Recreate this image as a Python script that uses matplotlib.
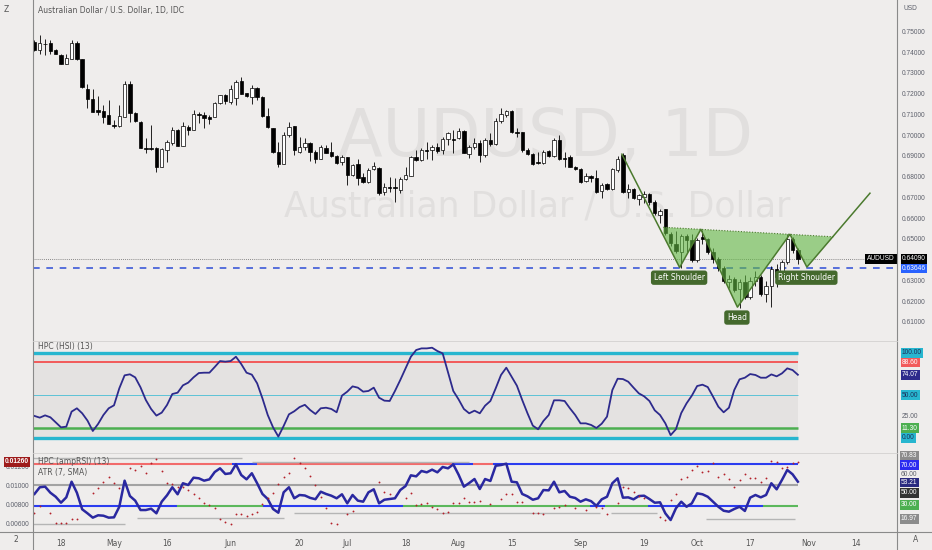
import numpy as np
import matplotlib
matplotlib.use("Agg")
import matplotlib.pyplot as plt
from matplotlib.lines import Line2D

W, H = 932, 550
BG = "#efedec"

# daily AUDUSD candles, 11 Apr .. 28 Oct (index = trading day)
opens = [0.7454, 0.7413, 0.7445, 0.7450, 0.7413, 0.7393, 0.7349, 0.7373, 0.7450, 0.7370,
         0.7229, 0.7181, 0.7125, 0.7120, 0.7101, 0.7053, 0.7048, 0.7093, 0.7253, 0.7109,
         0.7069, 0.6945, 0.6941, 0.6941, 0.6852, 0.6933, 0.6965, 0.7029, 0.6953, 0.7045,
         0.7029, 0.7106, 0.7101, 0.7093, 0.7093, 0.7160, 0.7197, 0.7165, 0.7185, 0.7264,
         0.7208, 0.7189, 0.7234, 0.7189, 0.7096, 0.7037, 0.6925, 0.6868, 0.7005, 0.7048,
         0.6925, 0.6946, 0.6965, 0.6925, 0.6892, 0.6941, 0.6925, 0.6904, 0.6876, 0.6897,
         0.6812, 0.6865, 0.6801, 0.6780, 0.6840, 0.6848, 0.6732, 0.6753, 0.6756, 0.6740,
         0.6791, 0.6807, 0.6897, 0.6884, 0.6933, 0.6933, 0.6949, 0.6933, 0.6984, 0.6984,
         0.6989, 0.7026, 0.6914, 0.6946, 0.6968, 0.6909, 0.6981, 0.6962, 0.7074, 0.7101,
         0.7122, 0.7021, 0.7018, 0.6933, 0.6914, 0.6877, 0.6872, 0.6930, 0.6904, 0.6981,
         0.6894, 0.6901, 0.6852, 0.6841, 0.6785, 0.6808, 0.6796, 0.6737, 0.6769, 0.6744,
         0.6836, 0.6909, 0.6732, 0.6745, 0.6695, 0.6705, 0.6720, 0.6684, 0.6620, 0.6647,
         0.6528, 0.6480, 0.6444, 0.6520, 0.6501, 0.6404, 0.6516, 0.6503, 0.6440, 0.6410,
         0.6366, 0.6295, 0.6310, 0.6262, 0.6295, 0.6225, 0.6300, 0.6320, 0.6240, 0.6280,
         0.6360, 0.6320, 0.6395, 0.6505, 0.6450]
highs = [0.7462, 0.7486, 0.7470, 0.7462, 0.7418, 0.7397, 0.7397, 0.7462, 0.7457, 0.7373,
         0.7253, 0.7229, 0.7194, 0.7149, 0.7173, 0.7077, 0.7149, 0.7264, 0.7264, 0.7117,
         0.7072, 0.6989, 0.7053, 0.6949, 0.6941, 0.6981, 0.7045, 0.7034, 0.7069, 0.7053,
         0.7125, 0.7114, 0.7114, 0.7104, 0.7165, 0.7200, 0.7205, 0.7245, 0.7269, 0.7285,
         0.7210, 0.7245, 0.7237, 0.7192, 0.7133, 0.7040, 0.6973, 0.7021, 0.7069, 0.7050,
         0.6997, 0.6989, 0.6973, 0.6933, 0.6957, 0.6957, 0.6973, 0.6909, 0.6909, 0.6899,
         0.6868, 0.6892, 0.6820, 0.6845, 0.6876, 0.6852, 0.6772, 0.6804, 0.6796, 0.6801,
         0.6852, 0.6904, 0.6933, 0.6941, 0.6973, 0.6957, 0.6965, 0.6997, 0.7021, 0.7029,
         0.7037, 0.7029, 0.6957, 0.6989, 0.6981, 0.6989, 0.7013, 0.7085, 0.7133, 0.7125,
         0.7125, 0.7037, 0.7021, 0.6941, 0.6917, 0.6925, 0.6933, 0.6933, 0.6989, 0.7005,
         0.6925, 0.6909, 0.6856, 0.6844, 0.6820, 0.6812, 0.6836, 0.6772, 0.6776, 0.6844,
         0.6904, 0.6917, 0.6770, 0.6750, 0.6720, 0.6735, 0.6728, 0.6690, 0.6650, 0.6650,
         0.6540, 0.6545, 0.6530, 0.6530, 0.6530, 0.6510, 0.6549, 0.6510, 0.6460, 0.6420,
         0.6375, 0.6330, 0.6320, 0.6310, 0.6330, 0.6320, 0.6350, 0.6330, 0.6300, 0.6375,
         0.6385, 0.6405, 0.6527, 0.6515, 0.6460]
lows = [0.7409, 0.7397, 0.7393, 0.7397, 0.7394, 0.7346, 0.7346, 0.7373, 0.7367, 0.7234,
        0.7136, 0.7114, 0.7104, 0.7061, 0.7056, 0.7037, 0.7045, 0.7090, 0.7069, 0.7069,
        0.6944, 0.6917, 0.6933, 0.6828, 0.6849, 0.6876, 0.6957, 0.6950, 0.6952, 0.7005,
        0.7027, 0.7061, 0.7037, 0.7058, 0.7090, 0.7157, 0.7157, 0.7157, 0.7149, 0.7202,
        0.7190, 0.7157, 0.7173, 0.7093, 0.7037, 0.6917, 0.6852, 0.6866, 0.6997, 0.6909,
        0.6917, 0.6933, 0.6881, 0.6872, 0.6888, 0.6917, 0.6901, 0.6865, 0.6860, 0.6764,
        0.6807, 0.6764, 0.6772, 0.6772, 0.6837, 0.6716, 0.6716, 0.6732, 0.6684, 0.6724,
        0.6788, 0.6807, 0.6881, 0.6881, 0.6888, 0.6884, 0.6917, 0.6914, 0.6957, 0.6917,
        0.6984, 0.6917, 0.6893, 0.6936, 0.6877, 0.6901, 0.6952, 0.6957, 0.7064, 0.7093,
        0.7016, 0.6997, 0.6925, 0.6909, 0.6860, 0.6865, 0.6865, 0.6901, 0.6901, 0.6885,
        0.6852, 0.6849, 0.6836, 0.6776, 0.6780, 0.6780, 0.6727, 0.6700, 0.6740, 0.6740,
        0.6828, 0.6727, 0.6700, 0.6695, 0.6670, 0.6680, 0.6670, 0.6620, 0.6582, 0.6525,
        0.6470, 0.6435, 0.6365, 0.6440, 0.6395, 0.6395, 0.6480, 0.6430, 0.6390, 0.6350,
        0.6290, 0.6270, 0.6250, 0.6172, 0.6215, 0.6215, 0.6280, 0.6230, 0.6200, 0.6175,
        0.6275, 0.6300, 0.6385, 0.6435, 0.6385]
closes = [0.7413, 0.7450, 0.7443, 0.7410, 0.7397, 0.7349, 0.7377, 0.7450, 0.7370, 0.7237,
          0.7181, 0.7117, 0.7117, 0.7093, 0.7058, 0.7051, 0.7098, 0.7253, 0.7109, 0.7074,
          0.6945, 0.6937, 0.6939, 0.6852, 0.6937, 0.6973, 0.7029, 0.6953, 0.7048, 0.7029,
          0.7106, 0.7101, 0.7085, 0.7083, 0.7160, 0.7197, 0.7168, 0.7225, 0.7261, 0.7205,
          0.7192, 0.7234, 0.7186, 0.7096, 0.7045, 0.6925, 0.6868, 0.7005, 0.7045, 0.6933,
          0.6949, 0.6965, 0.6925, 0.6892, 0.6946, 0.6920, 0.6904, 0.6872, 0.6897, 0.6812,
          0.6860, 0.6796, 0.6780, 0.6837, 0.6856, 0.6728, 0.6756, 0.6751, 0.6748, 0.6791,
          0.6812, 0.6897, 0.6884, 0.6933, 0.6930, 0.6946, 0.6930, 0.6984, 0.7013, 0.6982,
          0.7026, 0.6920, 0.6946, 0.6968, 0.6909, 0.6981, 0.6962, 0.7074, 0.7106, 0.7120,
          0.7018, 0.7016, 0.6933, 0.6914, 0.6865, 0.6872, 0.6925, 0.6904, 0.6981, 0.6888,
          0.6891, 0.6852, 0.6840, 0.6777, 0.6808, 0.6796, 0.6732, 0.6764, 0.6744, 0.6840,
          0.6888, 0.6732, 0.6745, 0.6700, 0.6715, 0.6720, 0.6684, 0.6628, 0.6641, 0.6532,
          0.6483, 0.6445, 0.6520, 0.6501, 0.6404, 0.6500, 0.6503, 0.6440, 0.6410, 0.6366,
          0.6300, 0.6310, 0.6260, 0.6295, 0.6225, 0.6300, 0.6320, 0.6240, 0.6280, 0.6360,
          0.6320, 0.6395, 0.6505, 0.6450, 0.6409]

# HPC (HSI) (13)
hsi = [25.6, 23.6, 26.3, 24.0, 18.1, 12.2, 13.0, 30.7, 34.6, 28.7,
       20.1, 7.9, 16.2, 26.7, 34.6, 38.1, 58.1, 73.4, 74.6, 71.0,
       59.3, 44.4, 33.8, 26.0, 29.5, 38.5, 51.4, 53.0, 61.6, 64.8,
       71.0, 76.1, 76.5, 76.5, 83.2, 90.2, 89.5, 90.2, 95.3, 86.7,
       76.5, 74.2, 64.0, 46.3, 26.7, 12.2, 1.3, 13.8, 27.5, 31.1,
       36.0, 38.7, 32.6, 27.9, 34.6, 35.3, 33.8, 29.9, 49.5, 54.2,
       60.4, 58.9, 54.2, 55.0, 58.9, 47.1, 43.6, 43.2, 55.0, 67.9,
       81.6, 95.3, 103.2, 105.1, 105.1, 105.9, 102.0, 99.2, 76.9, 55.0,
       45.1, 33.8, 28.7, 31.8, 28.7, 37.7, 43.2, 58.1, 73.8, 82.4,
       71.8, 61.2, 44.4, 28.7, 14.2, 9.9, 19.7, 26.7, 44.0, 44.0,
       43.2, 34.6, 26.7, 16.9, 16.9, 15.0, 11.4, 16.5, 24.8, 56.0,
       69.4, 69.0, 65.9, 58.9, 52.2, 48.7, 43.2, 32.2, 26.7, 16.9,
       3.0, 10.0, 29.0, 40.4, 49.5, 60.8, 62.4, 59.6, 48.3, 36.5,
       29.9, 35.3, 56.1, 68.7, 70.6, 74.9, 73.8, 70.6, 70.6, 74.5,
       72.2, 75.7, 81.6, 79.6, 74.07]

# HPC (ampRSI) (13)
amp_rsi = [41.3, 47.8, 48.4, 42.5, 38.6, 32.8, 38.0, 53.2, 42.5, 26.4,
           22.5, 18.3, 20.6, 20.2, 18.3, 18.6, 28.9, 54.2, 39.3, 34.8,
           25.7, 25.7, 27.0, 22.5, 33.8, 40.0, 47.8, 41.0, 51.7, 50.0,
           57.1, 56.5, 54.2, 55.5, 62.6, 66.2, 60.7, 61.4, 70.1, 59.7,
           55.5, 61.4, 51.7, 41.3, 36.4, 26.7, 23.1, 42.9, 47.8, 37.1,
           40.3, 39.8, 37.5, 36.2, 43.5, 41.3, 39.6, 37.1, 41.0, 32.2,
           40.3, 34.8, 33.8, 42.9, 45.8, 32.2, 35.7, 36.4, 37.1, 45.1,
           49.0, 59.4, 58.4, 63.6, 62.3, 64.9, 62.3, 67.5, 66.2, 70.0,
           60.0, 48.4, 51.9, 55.8, 46.1, 55.8, 53.9, 68.7, 69.4, 70.7,
           53.2, 52.6, 41.3, 39.0, 35.7, 37.1, 45.1, 44.8, 53.2, 42.9,
           44.2, 38.6, 37.4, 33.8, 36.1, 34.3, 29.8, 36.1, 38.6, 51.7,
           56.5, 37.7, 38.0, 36.1, 39.3, 39.6, 36.4, 32.8, 33.2, 22.5,
           16.0, 27.4, 33.8, 28.9, 32.2, 41.9, 41.0, 38.6, 33.8, 28.9,
           25.0, 24.1, 26.7, 28.9, 24.8, 37.7, 40.3, 38.0, 40.3, 51.7,
           45.8, 54.9, 64.6, 60.4, 53.21]

# ATR (7, SMA) dots, nan where no dot is drawn
nan = np.nan
atr = [0.00726, 0.00800, nan, 0.00726, 0.00621, 0.00621, 0.00615, 0.00657, 0.00657, nan,
       nan, 0.00931, 0.00983, 0.01053, 0.01105, 0.01042, 0.00983, nan, 0.01200, 0.01176,
       0.01218, 0.01147, 0.01253, 0.01288, 0.01165, 0.01036, 0.01028, 0.01000, 0.01000, 0.00965,
       0.00920, 0.00878, 0.00832, 0.00807, 0.00773, 0.00660, 0.00632, 0.00604, 0.00709, 0.00709,
       0.00695, 0.00709, 0.00737, 0.00818, 0.00878, 0.00931, 0.01028, 0.01099, 0.01147, 0.01299,
       0.01253, 0.01194, 0.01116, 0.01018, 0.00895, 0.00779, 0.00621, 0.00607, nan, 0.00713,
       0.00747, nan, nan, nan, nan, 0.01053, 0.00947, 0.00920, nan, nan,
       0.00884, 0.00931, 0.00807, 0.00815, 0.00825, 0.00789, 0.00762, 0.00726, 0.00731, 0.00825,
       0.00825, 0.00884, 0.00842, 0.00842, 0.00853, nan, 0.00815, nan, 0.00871, 0.00920,
       0.00920, 0.00836, 0.00842, nan, 0.00728, 0.00718, 0.00713, nan, 0.00773, 0.00789,
       0.00807, nan, 0.00773, nan, 0.00752, nan, 0.00789, 0.00779, 0.00709, nan,
       0.00825, 0.01000, 0.00989, 0.00947, 0.00905, 0.00884, nan, nan, 0.00684, 0.00647,
       0.00860, 0.00920, 0.01081, 0.01105, 0.01176, 0.01221, 0.01152, 0.01165, 0.01246, 0.01105,
       0.01131, 0.01081, 0.01000, 0.01071, 0.01131, 0.01095, 0.01095, 0.01053, 0.01088, 0.01271,
       0.01257, 0.01194, 0.01211, 0.01246, 0.01260]

# inverse head & shoulders drawing (bar index, price)
pattern_x = [110.8, 121.7, 125.7, 132.6, 142.5, 145.7, 157.6]
pattern_y = [0.6913, 0.6367, 0.6551, 0.6176, 0.6527, 0.6369, 0.6725]
neck_x = [118.6, 150.7]
neck_y = [0.6561, 0.6515]
pattern_labels = ["Left Shoulder", "Head", "Right Shoulder"]
label_x = [121.6, 132.5, 145.6]
label_y = [0.6318, 0.6126, 0.6318]

last_price = 0.64090
line_price = 0.63646

# ampRSI band colours switch along the bars
seg70 = [(-0.28, 37.2, "#f26b6b"), (37.2, 42.0, "#2b3cf0"), (42.0, 78.8, "#f26b6b"),
         (78.8, 82.7, "#2b3cf0"), (82.7, 86.5, "#f26b6b"), (86.5, 144, "#2b3cf0")]
seg30 = [(-0.28, 26.9, "#2b3cf0"), (26.9, 43.1, "#5cb85c"), (43.1, 69.5, "#2b3cf0"),
         (69.5, 104.8, "#5cb85c"), (104.8, 107.6, "#2b3cf0"), (107.6, 115.8, "#5cb85c"),
         (115.8, 137.4, "#2b3cf0"), (137.4, 144, "#5cb85c")]
upper_steps = [(-0.28, 39.2, 76.5), (41.0, 82.0, 72.3)]
lower_steps = [(-0.28, 17.1, 11.8), (19.3, 47.1, 18.3), (49.0, 106.7, 22.5),
               (108.8, 117.4, 23.1), (126.7, 143.5, 17.0)]

price_ticks = [0.61, 0.62, 0.63, 0.65, 0.66, 0.67, 0.68, 0.69, 0.70, 0.71, 0.72, 0.73, 0.74, 0.75]
tick_idx = [5, 15, 25, 37, 50, 59, 70, 80, 90, 103, 115, 125, 135, 146, 155]
tick_lbl = ["18", "May", "16", "Jun", "20", "Jul", "18", "Aug", "15", "Sep",
            "19", "Oct", "17", "Nov", "14"]

AXF = "Liberation Sans"
AXS = 4.8


def px_rect(x0, y0, x1, y1):
    return [x0 / W, 1 - y1 / H, (x1 - x0) / W, (y1 - y0) / H]


def rlabel(ax, y, s, fc=None, tc="#5d606b"):
    kw = {}
    if fc:
        kw["bbox"] = dict(boxstyle="square,pad=0.2", fc=fc, ec="none")
    ax.text(1 + 5 / 864, y, s, transform=ax.get_yaxis_transform(), ha="left",
            va="center", fontsize=AXS, family=AXF, color=tc, clip_on=False, **kw)


def fig_label(xp, yp, s, fc=None, tc="#5d606b", ha="left"):
    kw = {}
    if fc:
        kw["bbox"] = dict(boxstyle="square,pad=0.2", fc=fc, ec="none")
    fig.text(xp / W, 1 - yp / H, s, ha=ha, va="center", fontsize=AXS, family=AXF,
             color=tc, **kw)


plt.rcParams["font.family"] = ["DejaVu Sans"]
fig = plt.figure(figsize=(W / 100, H / 100), dpi=100, facecolor=BG)
ax1 = fig.add_axes(px_rect(33, 0, 897, 341))
ax2 = fig.add_axes(px_rect(33, 341, 897, 453))
ax3 = fig.add_axes(px_rect(33, 453, 897, 532))
ax3b = ax3.twinx()

XLIM = (-0.28, 162.7)
for ax in (ax1, ax2, ax3, ax3b):
    ax.set_xlim(XLIM)
    for s in ax.spines.values():
        s.set_visible(False)
    ax.set_xticks([])
    ax.set_yticks([])
for ax in (ax1, ax2, ax3):
    ax.set_facecolor(BG)
ax3b.patch.set_visible(False)

x = np.arange(len(closes))
o = np.array(opens)
c = np.array(closes)

# ---- main price panel
ax1.set_ylim(0.60130, 0.76556)
ax1.text((545 - 33) / 864, 1 - 138 / 341, "AUDUSD, 1D", transform=ax1.transAxes,
         ha="center", va="center", fontsize=47, color="#e1dfde", zorder=0)
ax1.text((537 - 33) / 864, 1 - 207 / 341, "Australian Dollar / U.S. Dollar",
         transform=ax1.transAxes, ha="center", va="center", fontsize=25,
         color="#e1dfde", zorder=0)
ax1.text(5 / 864, 1 - 11 / 341, "Australian Dollar / U.S. Dollar, 1D, IDC",
         transform=ax1.transAxes, ha="left", va="center", fontsize=5.5, color="#555555")

ax1.axhline(last_price, color="#666666", lw=0.6, ls=(0, (1, 1.5)), zorder=1)
ax1.axhline(line_price, color="#3d5ad8", lw=1.2, ls=(0, (4, 4)), zorder=1)

ax1.vlines(x, lows, highs, color="black", lw=0.6, zorder=2)
body = np.maximum(np.abs(c - o), 0.00008)
ax1.bar(x, body, bottom=np.minimum(o, c), width=0.64,
        color=np.where(c >= o, "white", "black"), edgecolor="black",
        linewidth=0.5, zorder=3)

xs = np.linspace(neck_x[0], neck_x[1], 600)
zig = np.interp(xs, pattern_x, pattern_y)
neck = np.interp(xs, neck_x, neck_y)
ax1.fill_between(xs, zig, neck, where=zig < neck, color="#62b944", alpha=0.6,
                 lw=0, zorder=4)
ax1.plot(pattern_x, pattern_y, color="#4b7a2e", lw=1.1, zorder=5)
ax1.plot(neck_x, neck_y, color="#4b7a2e", lw=0.8, ls=(0, (1, 1.5)), zorder=5)
for lx, ly, s in zip(label_x, label_y, pattern_labels):
    ax1.text(lx, ly, s, ha="center", va="center", fontsize=5.5, color="white",
             bbox=dict(boxstyle="round,pad=0.35", fc="#44692d", ec="none"), zorder=6)

for v in price_ticks:
    rlabel(ax1, v, f"{v:.5f}")
rlabel(ax1, last_price, "0.64090", fc="black", tc="white")
rlabel(ax1, line_price - 0.0002, "0.63646", fc="#2962ff", tc="white")
ax1.text((881 - 33) / 864, last_price, "AUDUSD", transform=ax1.get_yaxis_transform(),
         ha="center", va="center", fontsize=4.8, family=AXF, color="white",
         bbox=dict(boxstyle="square,pad=0.25", fc="black", ec="none"), zorder=7)

# ---- HSI panel
ax2.set_ylim(-18.0, 113.8)
ax2.fill_between([XLIM[0], 144], 0, 100, color="#e4e2e1", lw=0, zorder=0)
ax2.hlines(100, XLIM[0], 144, color="#27b6cf", lw=2.4)
ax2.hlines(0, XLIM[0], 144, color="#27b6cf", lw=2.4)
ax2.hlines(88.6, XLIM[0], 144, color="#f25a5a", lw=1.4)
ax2.hlines(50, XLIM[0], 144, color="#5cc3d6", lw=0.7)
ax2.hlines(11.3, XLIM[0], 144, color="#4caf50", lw=1.8)
ax2.plot(x, hsi, color="#2d2a8c", lw=1.3, zorder=3)
ax2.text(5 / 864, 1 - 6 / 112, "HPC (HSI) (13)", transform=ax2.transAxes,
         ha="left", va="center", fontsize=5.5, color="#555555")
rlabel(ax2, 100, "100.00", fc="#27b6cf", tc="#1b2f5a")
rlabel(ax2, 88.6, "88.60", fc="#f25a5a", tc="white")
rlabel(ax2, 74.07, "74.07", fc="#2d2a8c", tc="white")
rlabel(ax2, 50, "50.00", fc="#27b6cf", tc="#1b2f5a")
rlabel(ax2, 25, "25.00")
rlabel(ax2, 11.3, "11.30", fc="#4caf50", tc="white")
rlabel(ax2, 0, "0.00", fc="#27b6cf", tc="#1b2f5a")

# ---- ampRSI / ATR panel
ax3.set_ylim(4.37, 81.07)
ax3b.set_ylim(0.005232, 0.013547)
for a0, a1, col in seg70:
    ax3.hlines(70, a0, a1, color=col, lw=1.5)
for a0, a1, col in seg30:
    ax3.hlines(30, a0, a1, color=col, lw=1.5)
ax3.hlines(50, XLIM[0], 144, color="#a3a3a3", lw=1.5)
for a0, a1, v in upper_steps + lower_steps:
    ax3.hlines(v, a0, a1, color="#b5b5b5", lw=1.0)
ax3.plot(x, amp_rsi, color="#2a28a0", lw=1.8, zorder=3)
ax3b.scatter(x, atr, s=1.8, color="#b3202a", lw=0, zorder=4)
ax3.text(5 / 864, 1 - 8 / 79, "HPC (ampRSI) (13)", transform=ax3.transAxes,
         ha="left", va="center", fontsize=5.5, color="#555555")
ax3.text(5 / 864, 1 - 20 / 79, "ATR (7, SMA)", transform=ax3.transAxes,
         ha="left", va="center", fontsize=5.5, color="#555555")

fig_label(901, 455.7, "70.83", fc="#8c8c8c", tc="white")
fig_label(901, 465.3, "70.00", fc="#2b2bf0", tc="white")
fig_label(901, 474.5, "60.00")
fig_label(901, 482.5, "53.21", fc="#2a2a80", tc="white")
fig_label(901, 492.7, "50.00", fc="#333333", tc="white")
fig_label(901, 505.0, "30.00", fc="#4caf50", tc="white")
fig_label(901, 518.7, "16.97", fc="#8c8c8c", tc="white")

for v in (0.006, 0.008, 0.010, 0.012):
    ax3b.text(-4 / 864, v, f"{v:.5f}", transform=ax3b.get_yaxis_transform(),
              ha="right", va="center", fontsize=AXS, family=AXF, color="#5d606b",
              clip_on=False)
ax3b.text(-4 / 864, 0.0126, "0.01260", transform=ax3b.get_yaxis_transform(),
          ha="right", va="center", fontsize=AXS, family=AXF, color="white",
          clip_on=False, weight="bold",
          bbox=dict(boxstyle="square,pad=0.2", fc="#9e1b1b", ec="none"), zorder=8)

# ---- date axis
ax3.set_xticks(tick_idx)
ax3.set_xticklabels(tick_lbl)
ax3.tick_params(axis="x", length=0, pad=5, labelsize=5.5, labelcolor="#555555")
fig.text(16 / W, 1 - 540 / H, "2", ha="center", va="center", fontsize=5.5, color="#555555")
fig.text(916 / W, 1 - 540 / H, "A", ha="center", va="center", fontsize=5.5, color="#555555")
fig.text(6 / W, 1 - 9 / H, "Z", ha="center", va="center", fontsize=5.5, color="#555555")
fig.text(903 / W, 1 - 8 / H, "USD", ha="left", va="center", fontsize=4.8, family=AXF,
         color="#5d606b")

# frame lines
for (x0, y0, x1, y1, col, lw) in [(33, 0, 33, 550, "#8a8a8a", 0.8),
                                  (897, 0, 897, 550, "#8a8a8a", 0.8),
                                  (0, 532, 932, 532, "#8a8a8a", 0.8),
                                  (33, 341, 897, 341, "#d3d1d0", 0.6),
                                  (33, 453, 897, 453, "#d3d1d0", 0.6)]:
    fig.add_artist(Line2D([x0 / W, x1 / W], [1 - y0 / H, 1 - y1 / H],
                          color=col, lw=lw, transform=fig.transFigure))

fig.savefig("out.png", dpi=100, facecolor=BG)
